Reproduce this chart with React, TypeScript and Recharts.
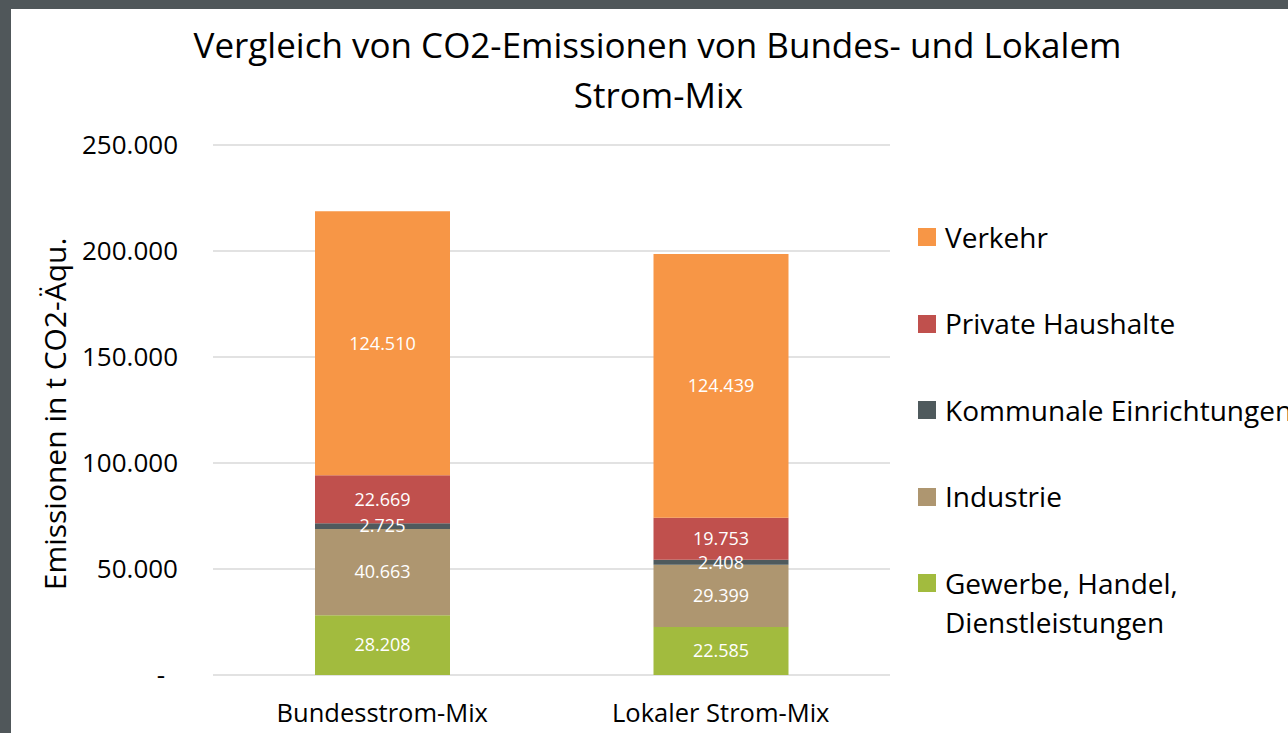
import React from "react";
import { BarChart, Bar, XAxis, YAxis, CartesianGrid, LabelList } from "recharts";

const categories = ["Bundesstrom-Mix", "Lokaler Strom-Mix"];
const gewerbe = [28208, 22585];
const industrie = [40663, 29399];
const kommunale = [2725, 2408];
const privat = [22669, 19753];
const verkehr = [124510, 124439];
const yTicks = [0, 50000, 100000, 150000, 200000, 250000];

const seriesDefs = [
  { key: "gewerbe", name: "Gewerbe, Handel, Dienstleistungen", values: gewerbe, color: "#A2BB3E" },
  { key: "industrie", name: "Industrie", values: industrie, color: "#AE9670" },
  { key: "kommunale", name: "Kommunale Einrichtungen", values: kommunale, color: "#4F5A5D" },
  { key: "privat", name: "Private Haushalte", values: privat, color: "#C0504D" },
  { key: "verkehr", name: "Verkehr", values: verkehr, color: "#F79646" },
];

const data = categories.map((c, i) => {
  const row: Record<string, any> = { name: c };
  seriesDefs.forEach((s) => (row[s.key] = s.values[i]));
  return row;
});

const FONT = "'Open Sans', 'Noto Sans', sans-serif";
const fmt = (v: number) => String(v).replace(/\B(?=(\d{3})+(?!\d))/g, ".");

const W = 1277;
const H = 724;

const YTick = (props: any) => {
  const { x, y, payload } = props;
  const v = payload.value;
  return (
    <text x={v === 0 ? x - 13 : x} y={y} dy="0.36em" textAnchor="end" fontSize={26} fontFamily={FONT} fill="#000">
      {v === 0 ? "-" : fmt(v)}
    </text>
  );
};

export default function App() {
  const legendItems = [...seriesDefs].reverse();
  return (
    <div style={{ position: "fixed", left: 0, top: 0, width: 1288, height: 733, background: "#50575A" }}>
      <div style={{ position: "absolute", left: 11, top: 9, width: W, height: H, background: "#fff", overflow: "hidden" }}>
        <BarChart
          width={W}
          height={H}
          data={data}
          margin={{ top: 136, right: 398, left: 0, bottom: 18 }}
          barSize={135}
        >
          <CartesianGrid vertical={false} stroke="#D9D9D9" strokeWidth={1.5} />
          <XAxis
            dataKey="name"
            axisLine={false}
            tickLine={false}
            tickSize={0}
            tickMargin={29}
            height={40}
            tick={{ fontSize: 25.5, fontFamily: FONT, fill: "#000" }}
          />
          <YAxis
            width={202}
            domain={[0, 250000]}
            ticks={yTicks}
            axisLine={false}
            tickLine={false}
            tickSize={0}
            tickMargin={35}
            tick={<YTick />}
          />
          {seriesDefs.map((s) => (
            <Bar key={s.key} dataKey={s.key} name={s.name} stackId="a" fill={s.color} isAnimationActive={false}>
              <LabelList
                dataKey={s.key}
                position="center"
                formatter={(v: any) => fmt(Number(v))}
                fill="#fff"
                fontSize={18}
                fontFamily={FONT}
              />
            </Bar>
          ))}
        </BarChart>
        <svg width={W} height={H} style={{ position: "absolute", left: 0, top: 0, pointerEvents: "none" }}>
          <text x={646.5} y={49} textAnchor="middle" fontSize={35} fontFamily={FONT} fill="#000">
            Vergleich von CO2-Emissionen von Bundes- und Lokalem
          </text>
          <text x={647.5} y={99} textAnchor="middle" fontSize={35} fontFamily={FONT} fill="#000">
            Strom-Mix
          </text>
          <g transform="translate(55, 405) rotate(-90)">
            <text x={0} y={0} textAnchor="middle" fontSize={30} fontFamily={FONT} fill="#000">
              Emissionen in t CO2-Äqu.
            </text>
          </g>
        </svg>
        <div style={{ position: "absolute", left: 907, top: 208.5, width: 500, fontFamily: FONT }}>
          {legendItems.map((s) => (
            <div key={s.key} style={{ display: "flex", alignItems: "flex-start", height: 86.5 }}>
              <div style={{ width: 18, height: 18, background: s.color, marginTop: 10.5, flexShrink: 0 }} />
              <div style={{ marginLeft: 9, fontSize: 28, lineHeight: "39px", color: "#000", whiteSpace: "nowrap" }}>
                {s.key === "gewerbe" ? (
                  <>
                    Gewerbe, Handel,
                    <br />
                    Dienstleistungen
                  </>
                ) : (
                  s.name
                )}
              </div>
            </div>
          ))}
        </div>
      </div>
    </div>
  );
}
